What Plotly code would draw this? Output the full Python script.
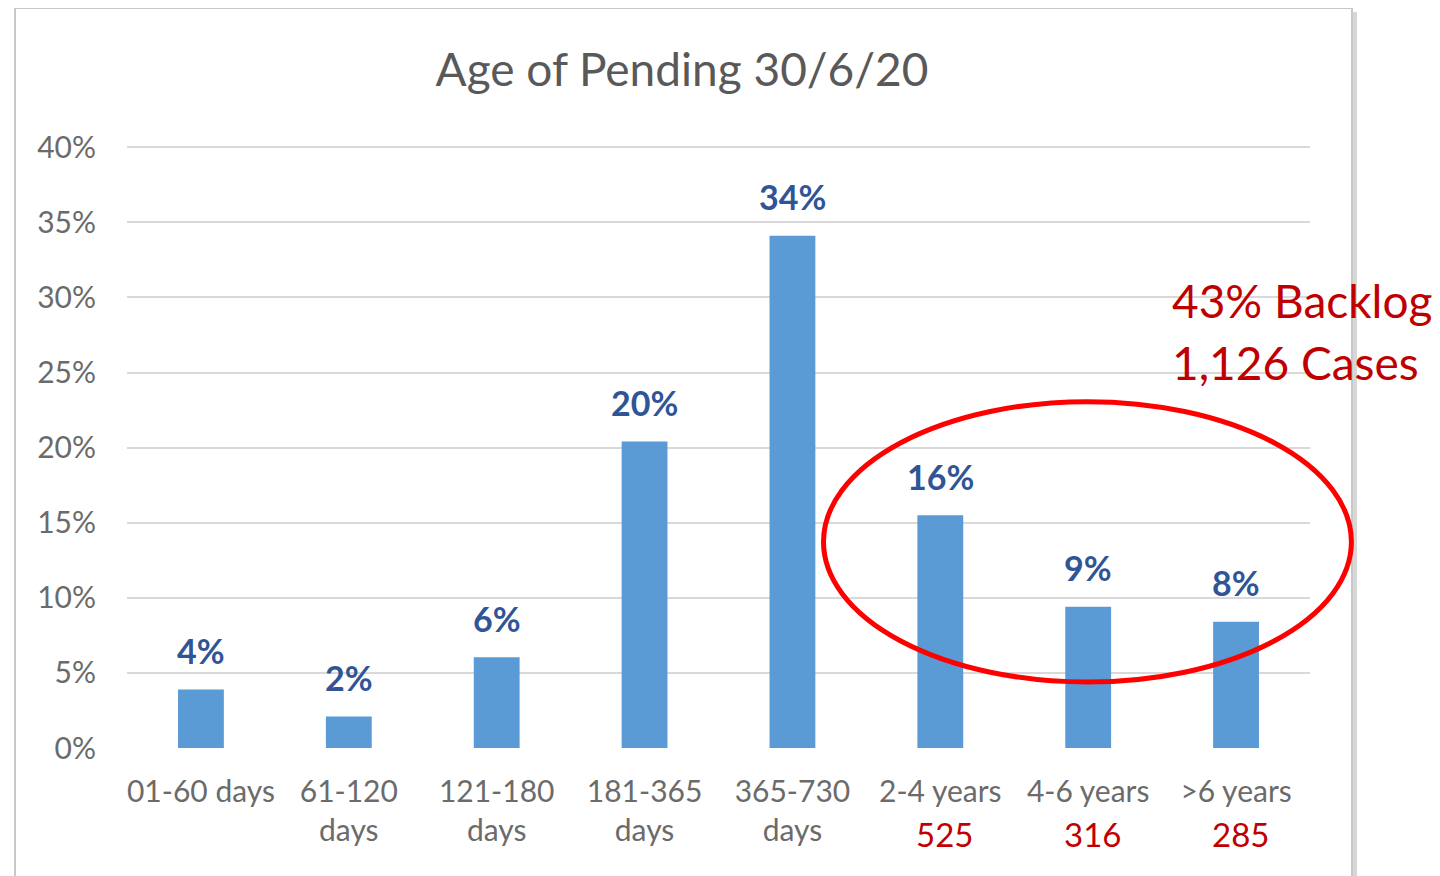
import plotly.graph_objects as go

categories = ["01-60 days", "61-120<br>days", "121-180<br>days", "181-365<br>days",
              "365-730<br>days", "2-4 years", "4-6 years", ">6 years"]
values = [3.9, 2.1, 6.05, 20.4, 34.1, 15.5, 9.4, 8.4]
labels = ["4%", "2%", "6%", "20%", "34%", "16%", "9%", "8%"]
case_counts = ["", "", "", "", "", "525", "316", "285"]
ytick_vals = [0, 5, 10, 15, 20, 25, 30, 35, 40]
ytick_text = ["0%", "5%", "10%", "15%", "20%", "25%", "30%", "35%", "40%"]
title_text = "Age of Pending 30/6/20"
backlog_lines = ["43% Backlog", "1,126 Cases"]

FONT = "Lato"
GRAY = "#595959"
TICKGRAY = "#6b6b6b"
BLUE = "#5B9BD5"
DARKBLUE = "#2F5597"
DARKRED = "#C00000"

OFF = 8  # page body margin
W, H = 1440, 876
L = 127 - OFF
T = 146 - OFF
R = W - (1310 - OFF)
B = H - (748 - OFF)
pw = W - L - R
ph = H - T - B
YMAX = 40.08

def px_x(p):
    return (p - OFF - L) / pw

def px_y(p):
    return (H - B - (p - OFF)) / ph

n = len(categories)

fig = go.Figure()
fig.add_trace(go.Bar(
    x=list(range(n)), y=values,
    marker=dict(color=BLUE, line=dict(width=0)),
    hoverinfo="skip",
))

annotations = []
for i, (v, lab) in enumerate(zip(values, labels)):
    annotations.append(dict(x=i, y=v, xref="x", yref="y", text=f"<b>{lab}</b>",
                            showarrow=False, yanchor="middle", yshift=39,
                            font=dict(family=FONT, size=34, color=DARKBLUE)))
for i, c in enumerate(case_counts):
    if c:
        annotations.append(dict(x=i, y=px_y(834), xref="x", yref="paper", text=c,
                                showarrow=False, yanchor="middle", xshift=4,
                                font=dict(family=FONT, size=33, color=DARKRED)))
for line, py in zip(backlog_lines, [300, 362]):
    annotations.append(dict(x=px_x(1170), y=px_y(py), xref="paper", yref="paper",
                            text=line, showarrow=False, xanchor="left", yanchor="middle",
                            font=dict(family=FONT, size=46, color=DARKRED)))

# ellipse around the backlog bars, in data units converted to paper
ex0, ex1, ey0, ey1 = 4.21, 7.78, 4.39, 23.06
shapes = [
    dict(type="rect", xref="paper", yref="paper",
         x0=px_x(15), x1=px_x(1352), y0=px_y(8), y1=px_y(900),
         line=dict(color="#c8c8c8", width=2), fillcolor="rgba(0,0,0,0)", layer="below"),
    dict(type="line", xref="paper", yref="paper",
         x0=px_x(1355), x1=px_x(1355), y0=px_y(12), y1=px_y(900),
         line=dict(color="#d6d6d6", width=4), layer="below"),
    dict(type="circle", xref="paper", yref="paper",
         x0=(ex0 + 0.5) / n, x1=(ex1 + 0.5) / n, y0=ey0 / YMAX, y1=ey1 / YMAX,
         line=dict(color="#FF0000", width=5), fillcolor="rgba(0,0,0,0)", layer="above"),
]

fig.update_layout(
    width=W, height=H,
    margin=dict(l=L, r=R, t=T, b=B),
    paper_bgcolor="white", plot_bgcolor="white",
    showlegend=False,
    bargap=0.69,
    title=dict(text=title_text, x=px_x(682), xref="paper", xanchor="center",
               y=1 - (70 - OFF) / H, yanchor="middle",
               font=dict(family=FONT, size=46, color=GRAY)),
    xaxis=dict(tickmode="array", tickvals=list(range(n)), ticktext=categories,
               range=[-0.5, n - 0.5],
               showgrid=False, zeroline=False, showline=False, ticks="",
               tickfont=dict(family=FONT, size=30, color=TICKGRAY), ticklabelstandoff=23),
    yaxis=dict(range=[0, YMAX], tickvals=ytick_vals, ticktext=ytick_text,
               showgrid=True, gridcolor="#d9d9d9", gridwidth=2,
               zeroline=False, showline=False, ticks="",
               tickfont=dict(family=FONT, size=30, color=TICKGRAY), ticklabelstandoff=30),
    annotations=annotations,
    shapes=shapes,
    font=dict(family=FONT),
)

fig.write_html("out.html")
